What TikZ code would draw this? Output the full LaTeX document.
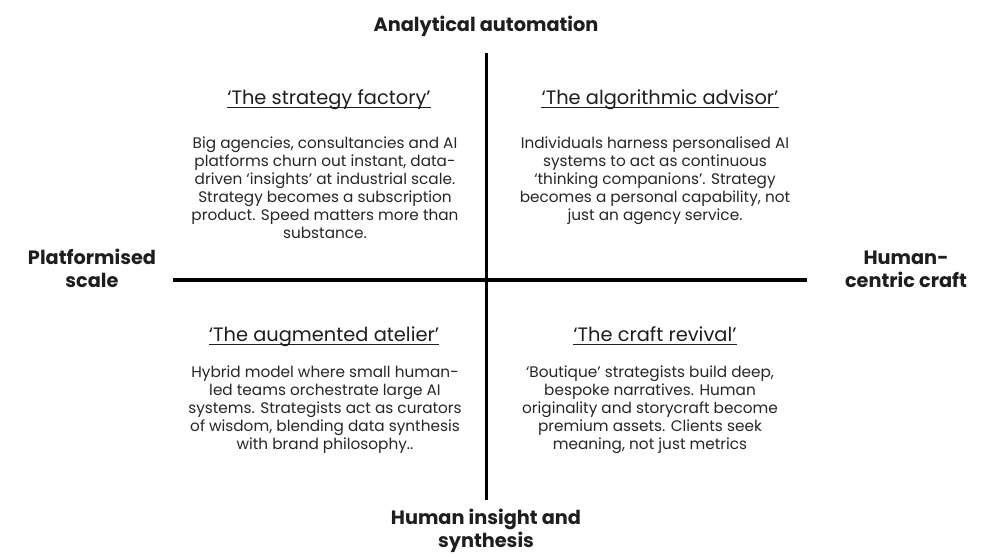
\documentclass[tikz,border=0pt]{standalone}
\usepackage{fontspec}
\setmainfont{Poppins}
\definecolor{ink}{HTML}{1E1E1E}
\definecolor{bodyink}{HTML}{262626}
\tikzset{
  x=1pt, y=-1pt,
  axislabel/.style={font={\fontsize{19.3}{23}\selectfont\bfseries}, text=ink, align=center, inner sep=0pt, anchor=base},
  quadtitle/.style={font={\fontsize{19.4}{24}\selectfont}, text=ink, inner sep=0pt, anchor=base},
  quadbody/.style={font={\fontsize{15.3}{18}\selectfont}, text=bodyink, align=center, inner sep=0pt, anchor=base},
  axisline/.style={line width=3.2pt, draw=black},
  uline/.style={line width=0.8pt, draw=ink}
}
\begin{document}
\begin{tikzpicture}
\useasboundingbox[fill=white] (0,0) rectangle (1000,558);
% axes
\coordinate (L) at (173,280);
\coordinate (R) at (807,280);
\coordinate (T) at (486.5,53);
\coordinate (B) at (486.5,500);
\draw[axisline] (L) -- (R);
\draw[axisline] (T) -- (B);
% axis labels (base = baseline of last line)
\node[axislabel] (top) at (486,31) {Analytical automation};
\node[axislabel] (left) at (92,287) {Platformised\\scale};
\node[axislabel] (right) at (906,287) {Human-\\centric craft};
\node[axislabel] (bottom) at (486,547) {Human insight and\\synthesis};
% quadrant titles
\node[quadtitle] (t1) at (329,104) {‘The strategy factory’};
\node[quadtitle] (t2) at (660,104) {‘The algorithmic advisor’};
\node[quadtitle] (t3) at (324,341) {‘The augmented atelier’};
\node[quadtitle] (t4) at (655,341) {‘The craft revival’};
\foreach \n in {t1,t2,t3,t4}{
  \draw[uline] ([yshift=-3.3pt]\n.base west) -- ([yshift=-3.3pt]\n.base east);
}
% quadrant bodies (base = baseline of last line)
\node[quadbody] (b1) at (325,238) {Big agencies, consultancies and AI\\platforms churn out instant, data-\\driven ‘insights’ at industrial scale.\\Strategy becomes a subscription\\product. Speed matters more than\\substance.};
\node[quadbody] (b2) at (655,220) {Individuals harness personalised AI\\systems to act as continuous\\‘thinking companions’. Strategy\\becomes a personal capability, not\\just an agency service.};
\node[quadbody] (b3) at (325,449) {Hybrid model where small human-\\led teams orchestrate large AI\\systems. Strategists act as curators\\of wisdom, blending data synthesis\\with brand philosophy..};
\node[quadbody] (b4) at (650,449) {‘Boutique’ strategists build deep,\\bespoke narratives. Human\\originality and storycraft become\\premium assets. Clients seek\\meaning, not just metrics};
\end{tikzpicture}
\end{document}
